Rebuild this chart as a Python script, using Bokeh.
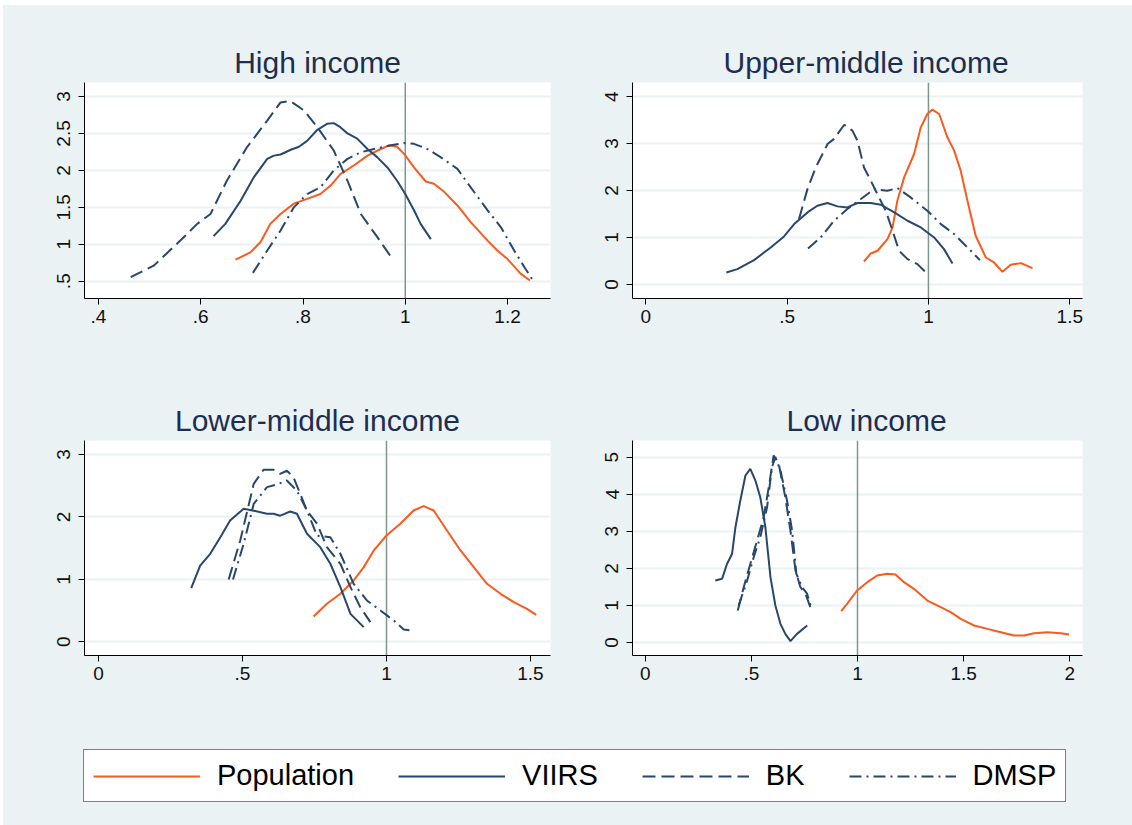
from bokeh.plotting import figure
from bokeh.models import (Range1d, FixedTicker, CustomJSTickFormatter, Span,
                          Legend, LegendItem)
from bokeh.layouts import column, row
from bokeh.embed import file_html
from bokeh.resources import INLINE

# ---------------- data ----------------
# High income
hi_pop_x = [0.668, 0.697, 0.717, 0.736, 0.756, 0.782, 0.808, 0.834, 0.854, 0.873, 0.900, 0.926, 0.952, 0.968, 0.984, 0.998, 1.017, 1.040, 1.056, 1.076, 1.102, 1.128, 1.161, 1.180, 1.200, 1.226, 1.244]
hi_pop_y = [0.793, 0.89, 1.03, 1.276, 1.41, 1.55, 1.615, 1.68, 1.795, 1.95, 2.07, 2.20, 2.29, 2.34, 2.32, 2.22, 2.04, 1.85, 1.82, 1.71, 1.525, 1.30, 1.05, 0.915, 0.80, 0.60, 0.51]
hi_viirs_x = [0.625, 0.648, 0.678, 0.704, 0.730, 0.743, 0.756, 0.776, 0.792, 0.808, 0.828, 0.847, 0.860, 0.873, 0.887, 0.906, 0.926, 0.945, 0.965, 0.984, 1.000, 1.017, 1.030, 1.050]
hi_viirs_y = [1.11, 1.276, 1.59, 1.91, 2.156, 2.20, 2.215, 2.28, 2.32, 2.40, 2.55, 2.63, 2.64, 2.585, 2.50, 2.43, 2.29, 2.18, 2.04, 1.86, 1.68, 1.46, 1.276, 1.07]
hi_bk_x = [0.463, 0.508, 0.560, 0.593, 0.619, 0.651, 0.690, 0.730, 0.756, 0.775, 0.802, 0.828, 0.860, 0.887, 0.913, 0.945, 0.976]
hi_bk_y = [0.554, 0.71, 1.05, 1.276, 1.41, 1.86, 2.31, 2.675, 2.92, 2.94, 2.81, 2.585, 2.27, 1.86, 1.41, 1.10, 0.79]
hi_dmsp_x = [0.702, 0.730, 0.756, 0.782, 0.808, 0.834, 0.860, 0.887, 0.913, 0.939, 0.972, 0.998, 1.017, 1.043, 1.069, 1.102, 1.128, 1.161, 1.187, 1.213, 1.233, 1.249]
hi_dmsp_y = [0.613, 0.915, 1.186, 1.50, 1.68, 1.77, 2.00, 2.156, 2.246, 2.29, 2.34, 2.37, 2.36, 2.29, 2.18, 2.02, 1.77, 1.46, 1.23, 0.915, 0.69, 0.52]

# Upper-middle income
um_pop_x = [0.772, 0.796, 0.820, 0.855, 0.873, 0.890, 0.914, 0.949, 0.973, 0.996, 1.014, 1.038, 1.067, 1.091, 1.114, 1.138, 1.167, 1.203, 1.232, 1.262, 1.291, 1.327, 1.368]
um_pop_y = [0.49, 0.661, 0.718, 0.966, 1.215, 1.783, 2.28, 2.778, 3.346, 3.63, 3.723, 3.63, 3.133, 2.849, 2.423, 1.783, 1.037, 0.575, 0.469, 0.27, 0.419, 0.455, 0.348]
um_viirs_x = [0.285, 0.324, 0.383, 0.442, 0.489, 0.525, 0.572, 0.607, 0.643, 0.678, 0.713, 0.749, 0.796, 0.831, 0.879, 0.926, 0.973, 1.020, 1.055, 1.085]
um_viirs_y = [0.256, 0.327, 0.519, 0.789, 1.023, 1.286, 1.535, 1.677, 1.734, 1.663, 1.641, 1.734, 1.734, 1.698, 1.535, 1.357, 1.215, 1.002, 0.753, 0.448]
um_bk_x = [0.542, 0.572, 0.601, 0.643, 0.666, 0.702, 0.731, 0.749, 0.772, 0.796, 0.825, 0.849, 0.873, 0.896, 0.926, 0.961, 0.985, 0.996]
um_bk_y = [1.393, 2.03, 2.49, 2.99, 3.10, 3.40, 3.275, 3.06, 2.49, 2.21, 1.854, 1.57, 1.144, 0.718, 0.54, 0.433, 0.291, 0.256]
um_dmsp_x = [0.574, 0.619, 0.666, 0.713, 0.761, 0.808, 0.855, 0.890, 0.937, 0.996, 1.044, 1.091, 1.138, 1.182]
um_dmsp_y = [0.767, 1.002, 1.357, 1.606, 1.819, 2.03, 1.996, 2.053, 1.854, 1.57, 1.286, 1.073, 0.789, 0.519]

# Lower-middle income
lm_pop_x = [0.747, 0.793, 0.840, 0.886, 0.921, 0.956, 1.000, 1.048, 1.094, 1.129, 1.164, 1.210, 1.257, 1.303, 1.349, 1.396, 1.442, 1.488, 1.520]
lm_pop_y = [0.406, 0.609, 0.769, 0.982, 1.196, 1.463, 1.703, 1.89, 2.103, 2.173, 2.103, 1.783, 1.463, 1.196, 0.929, 0.769, 0.635, 0.528, 0.432]
lm_viirs_x = [0.322, 0.353, 0.388, 0.423, 0.457, 0.504, 0.539, 0.585, 0.608, 0.631, 0.666, 0.689, 0.724, 0.770, 0.805, 0.840, 0.875, 0.921]
lm_viirs_y = [0.859, 1.22, 1.41, 1.676, 1.943, 2.13, 2.10, 2.05, 2.05, 2.02, 2.087, 2.05, 1.73, 1.516, 1.25, 0.875, 0.448, 0.235]
lm_bk_x = [0.452, 0.492, 0.539, 0.573, 0.608, 0.631, 0.654, 0.677, 0.724, 0.759, 0.793, 0.840, 0.875, 0.909, 0.944]
lm_bk_y = [0.998, 1.62, 2.53, 2.755, 2.755, 2.69, 2.74, 2.637, 2.10, 1.89, 1.516, 1.25, 0.875, 0.555, 0.315]
lm_dmsp_x = [0.467, 0.504, 0.539, 0.585, 0.620, 0.654, 0.689, 0.724, 0.759, 0.805, 0.840, 0.886, 0.932, 0.979, 1.025, 1.060, 1.087]
lm_dmsp_y = [0.998, 1.57, 2.21, 2.477, 2.52, 2.584, 2.42, 2.10, 1.70, 1.676, 1.41, 0.929, 0.662, 0.502, 0.342, 0.198, 0.182]

# Low income
lo_pop_x = [0.923, 0.951, 0.998, 1.046, 1.093, 1.140, 1.179, 1.219, 1.266, 1.329, 1.392, 1.439, 1.486, 1.549, 1.612, 1.675, 1.737, 1.785, 1.832, 1.895, 1.958, 1.997]
lo_pop_y = [0.845, 1.043, 1.403, 1.628, 1.808, 1.853, 1.835, 1.628, 1.448, 1.133, 0.953, 0.818, 0.638, 0.459, 0.369, 0.279, 0.189, 0.189, 0.252, 0.279, 0.252, 0.216]
lo_viirs_x = [0.330, 0.362, 0.385, 0.409, 0.425, 0.448, 0.472, 0.495, 0.519, 0.542, 0.566, 0.590, 0.613, 0.637, 0.660, 0.684, 0.715, 0.763]
lo_viirs_y = [1.673, 1.718, 2.12, 2.39, 3.11, 3.83, 4.505, 4.685, 4.37, 3.92, 3.11, 1.763, 0.998, 0.504, 0.234, 0.036, 0.234, 0.459]
lo_bk_x = [0.436, 0.464, 0.495, 0.527, 0.558, 0.582, 0.605, 0.629, 0.660, 0.684, 0.708, 0.731, 0.755, 0.778]
lo_bk_y = [0.863, 1.493, 2.12, 2.75, 3.38, 4.19, 5.045, 4.82, 3.92, 3.02, 1.94, 1.493, 1.313, 0.953]
lo_dmsp_x = [0.440, 0.480, 0.511, 0.542, 0.574, 0.597, 0.613, 0.637, 0.668, 0.692, 0.712, 0.739, 0.763, 0.781]
lo_dmsp_y = [1.0, 1.67, 2.30, 2.84, 3.65, 4.73, 5.0, 4.64, 3.83, 3.02, 1.85, 1.49, 1.31, 0.95]

series_names = ["Population", "VIIRS", "BK", "DMSP"]
panel_titles = ["High income", "Upper-middle income", "Lower-middle income", "Low income"]
hi_xticks = [0.4, 0.6, 0.8, 1.0, 1.2]
hi_yticks = [0.5, 1, 1.5, 2, 2.5, 3]
um_xticks = [0, 0.5, 1, 1.5]
um_yticks = [0, 1, 2, 3, 4]
lm_xticks = [0, 0.5, 1, 1.5]
lm_yticks = [0, 1, 2, 3]
lo_xticks = [0, 0.5, 1, 1.5, 2]
lo_yticks = [0, 1, 2, 3, 4, 5]
ref_line = 1

# ---------------- styling ----------------
BG = "#EAF2F3"
FONT = "Liberation Sans"
ORANGE = "#FB5A1E"
NAVY = "#27476B"
styles = {
    "Population": dict(color=ORANGE, dash="solid"),
    "VIIRS": dict(color=NAVY, dash="solid"),
    "BK": dict(color=NAVY, dash="13 6"),
    "DMSP": dict(color=NAVY, dash="12 5 2 5"),
}

fmt = CustomJSTickFormatter(code="""
var v = Math.round(tick*10)/10;
var s = v.toString();
if (s.indexOf('0.') === 0) { s = s.substring(1); }
return s;
""")


def make_panel(title, series, xr, yr, xticks, yticks, width, height, mleft, mright,
               mtop, mbottom, title_align, title_offset):
    p = figure(width=width, height=height, output_backend="svg",
               toolbar_location=None, x_range=Range1d(*xr), y_range=Range1d(*yr),
               min_border_left=mleft, min_border_right=mright,
               min_border_top=mtop, min_border_bottom=mbottom)
    p.background_fill_color = "white"
    p.border_fill_color = BG
    p.outline_line_color = None
    p.title.text = title
    p.title.text_font = FONT
    p.title.text_font_size = "30px"
    p.title.text_font_style = "normal"
    p.title.text_color = "#1E2D50"
    p.title.align = title_align
    p.title.offset = title_offset
    p.title.standoff = 8
    p.xgrid.visible = False
    p.ygrid.grid_line_color = BG
    p.ygrid.grid_line_width = 2
    p.xaxis.ticker = FixedTicker(ticks=xticks)
    p.yaxis.ticker = FixedTicker(ticks=yticks)
    for ax in (p.xaxis[0], p.yaxis[0]):
        ax.formatter = fmt
        ax.axis_line_color = "black"
        ax.axis_line_width = 1
        ax.major_tick_line_color = "black"
        ax.major_tick_out = 6
        ax.major_tick_in = 0
        ax.minor_tick_line_color = None
        ax.major_label_text_font = FONT
        ax.major_label_text_font_size = "19px"
        ax.major_label_text_color = "#111111"
        ax.major_label_standoff = 5
    p.yaxis.major_label_orientation = "vertical"
    p.yaxis.major_label_standoff = 8
    p.ygrid.ticker = FixedTicker(ticks=yticks)
    p.add_layout(Span(location=ref_line, dimension="height", line_color="#7E978D",
                      line_width=1.5, level="underlay"))
    for name, (xs, ys) in zip(series_names, series):
        st = styles[name]
        p.line(xs, ys, line_color=st["color"], line_width=2, line_dash=st["dash"])
    return p


p1 = make_panel(panel_titles[0],
                [(hi_pop_x, hi_pop_y), (hi_viirs_x, hi_viirs_y), (hi_bk_x, hi_bk_y), (hi_dmsp_x, hi_dmsp_y)],
                (0.3726, 1.284), (0.266, 3.19), hi_xticks, hi_yticks,
                563, 361, 81, 16, 77, 68, "center", 0)
p2 = make_panel(panel_titles[1],
                [(um_pop_x, um_pop_y), (um_viirs_x, um_viirs_y), (um_bk_x, um_bk_y), (um_dmsp_x, um_dmsp_y)],
                (-0.047, 1.545), (-0.298, 4.30), um_xticks, um_yticks,
                566, 361, 66, 50, 77, 68, "left", 91)
p3 = make_panel(panel_titles[2],
                [(lm_pop_x, lm_pop_y), (lm_viirs_x, lm_viirs_y), (lm_bk_x, lm_bk_y), (lm_dmsp_x, lm_dmsp_y)],
                (-0.0486, 1.5695), (-0.219, 3.224), lm_xticks, lm_yticks,
                563, 358, 81, 16, 74, 69, "center", 0)
p4 = make_panel(panel_titles[3],
                [(lo_pop_x, lo_pop_y), (lo_viirs_x, lo_viirs_y), (lo_bk_x, lo_bk_y), (lo_dmsp_x, lo_dmsp_y)],
                (-0.06, 2.06), (-0.35, 5.45), lo_xticks, lo_yticks,
                566, 358, 66, 50, 74, 69, "left", 154)

# ---------------- legend strip ----------------
pl = figure(width=1129, height=101, output_backend="svg", toolbar_location=None,
            x_range=Range1d(10, 11), y_range=Range1d(10, 11),
            min_border_left=0, min_border_right=0, min_border_top=0, min_border_bottom=0)
pl.background_fill_color = BG
pl.border_fill_color = BG
pl.outline_line_color = None
pl.xaxis.visible = False
pl.yaxis.visible = False
pl.grid.visible = False
items = []
legend_series = [(hi_pop_x, hi_pop_y), (hi_viirs_x, hi_viirs_y), (hi_bk_x, hi_bk_y), (hi_dmsp_x, hi_dmsp_y)]
for name, (xs, ys) in zip(series_names, legend_series):
    st = styles[name]
    # off-range copies: they only supply the legend samples
    r = pl.line(xs, ys, line_color=st["color"], line_width=2, line_dash=st["dash"])
    items.append(LegendItem(label=name, renderers=[r]))
leg = Legend(items=items, orientation="horizontal", location=(80, 23),
             glyph_width=107, glyph_height=20, label_standoff=17, spacing=44,
             padding=9, margin=0,
             label_text_font=FONT, label_text_font_size="29px", label_text_color="black",
             border_line_color="black", border_line_width=1.2,
             background_fill_color="white", background_fill_alpha=1.0)
pl.add_layout(leg)

layout = column(row(p1, p2, styles={"background-color": BG}),
                row(p3, p4, styles={"background-color": BG}),
                pl, styles={"background-color": BG, "margin-left": "3px", "margin-top": "5px"})
open("out.html", "w").write(file_html(layout, INLINE))
